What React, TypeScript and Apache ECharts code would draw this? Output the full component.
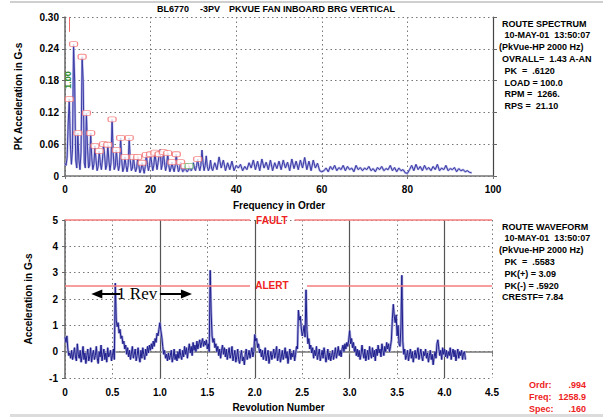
import React, { useEffect, useRef } from "react";
import * as echarts from "echarts";

// ---- Spectrum (orders 0..35 at 0.25 order, 35.5..95 at 0.5 order) ----
const spectrumLowStep = 0.25;
const spectrumLow = [
  0.024, 0.020, 0.035, 0.100,
  0.145, 0.060, 0.022, 0.050,
  0.249, 0.183, 0.030, 0.015,
  0.081, 0.030, 0.012, 0.045,
  0.225, 0.178, 0.025, 0.015,
  0.119, 0.055, 0.015, 0.020,
  0.081, 0.035, 0.012, 0.022,
  0.057, 0.030, 0.010, 0.018,
  0.047, 0.025, 0.012, 0.030,
  0.060, 0.040, 0.012, 0.020,
  0.059, 0.030, 0.010, 0.025,
  0.107, 0.045, 0.012, 0.018,
  0.049, 0.025, 0.010, 0.020,
  0.072, 0.030, 0.008, 0.015,
  0.036, 0.020, 0.008, 0.020,
  0.072, 0.030, 0.010, 0.015,
  0.036, 0.018, 0.008, 0.015,
  0.036, 0.020, 0.006, 0.012,
  0.025, 0.015, 0.005, 0.018,
  0.040, 0.022, 0.010, 0.020,
  0.041, 0.025, 0.010, 0.020,
  0.044, 0.028, 0.012, 0.025,
  0.041, 0.050, 0.012, 0.022,
  0.045, 0.025, 0.010, 0.020,
  0.043, 0.020, 0.008, 0.015,
  0.026, 0.015, 0.008, 0.020,
  0.041, 0.020, 0.008, 0.012,
  0.026, 0.015, 0.008, 0.010,
  0.019, 0.012, 0.008, 0.010,
  0.019, 0.012, 0.010, 0.015,
  0.025, 0.015, 0.010, 0.020,
  0.032, 0.018, 0.010, 0.020,
  0.049, 0.025, 0.010, 0.020,
  0.038, 0.018, 0.010, 0.015,
  0.030, 0.015, 0.010, 0.018,
  0.025,
];
const spectrumHighStart = 35.5;
const spectrumHighStep = 0.5;
const spectrumHigh = [
  0.012, 0.036, 0.015, 0.030, 0.010, 0.025, 0.012, 0.028, 0.010, 0.020,
  0.015, 0.022, 0.010, 0.018, 0.012, 0.025, 0.015, 0.030, 0.012, 0.028,
  0.010, 0.032, 0.015, 0.026, 0.012, 0.030, 0.010, 0.025, 0.014, 0.028,
  0.012, 0.030, 0.015, 0.026, 0.010, 0.032, 0.014, 0.028, 0.012, 0.030,
  0.015, 0.035, 0.012, 0.028, 0.010, 0.030, 0.015, 0.024, 0.010, 0.008,
  0.010, 0.015, 0.008, 0.018, 0.012, 0.020, 0.010, 0.016, 0.012, 0.020,
  0.010, 0.018, 0.012, 0.015, 0.008, 0.020, 0.012, 0.016, 0.010, 0.015,
  0.012, 0.018, 0.010, 0.014, 0.008, 0.016, 0.012, 0.018, 0.010, 0.014,
  0.012, 0.020, 0.010, 0.016, 0.008, 0.015, 0.010, 0.012, 0.006, 0.005,
  0.012, 0.020, 0.010, 0.022, 0.012, 0.018, 0.010, 0.020, 0.012, 0.016,
  0.010, 0.018, 0.012, 0.022, 0.010, 0.015, 0.012, 0.020, 0.010, 0.014,
  0.012, 0.016, 0.008, 0.014, 0.010, 0.012, 0.008, 0.010, 0.007, 0.006,
];

// peak markers (order, value)
const peakOrders = [1, 2, 3, 4, 5, 6, 7, 8, 9, 10, 11, 12, 13, 14, 15, 16, 17, 18, 19, 20, 21, 22, 23, 24, 25, 26, 27, 28, 29, 31];
const peakValues = [0.145, 0.249, 0.081, 0.225, 0.119, 0.081, 0.057, 0.047, 0.060, 0.059, 0.107, 0.049, 0.072, 0.036, 0.072, 0.036, 0.036, 0.025, 0.040, 0.041, 0.044, 0.041, 0.045, 0.043, 0.026, 0.041, 0.026, 0.019, 0.019, 0.032];

// ---- Waveform (revolutions, step 0.01) ----
const waveStep = 0.01;
const waveform = [
  0.55, 0.35, 0.60, 0.10, -0.15, -0.05, -0.25, 0.05, -0.30, -0.10,
  0.15, -0.20, -0.35, 0.30, -0.10, -0.25, 0.05, -0.40, -0.15, 0.20,
  -0.30, -0.05, -0.45, -0.15, 0.10, -0.35, -0.20, 0.15, -0.40, -0.10,
  0.05, -0.30, -0.15, 0.20, -0.25, -0.45, 0.00, -0.20, 0.25, -0.35,
  -0.10, 0.10, -0.30, -0.05, -0.40, 0.15, -0.20, -0.10, 0.05, -0.35,
  -0.15, 0.10, -0.30, 2.60, 1.20, 0.95, 1.10, 0.70, 0.85, 0.50,
  0.60, 0.30, 0.40, 0.10, 0.25, -0.10, 0.15, -0.20, 0.05, -0.30,
  -0.05, 0.20, -0.25, -0.10, 0.10, -0.35, -0.15, 0.15, -0.20, -0.40,
  0.05, -0.25, 0.15, -0.10, -0.30, 0.10, -0.15, 0.20, -0.05, 0.25,
  0.05, 0.30, 0.10, 0.40, 0.20, 0.50, 0.35, 0.70, 0.60, 0.85,
  1.10, 0.80, 0.55, 0.20, -0.10, 0.05, -0.25, -0.10, -0.35, -0.05,
  -0.30, -0.15, 0.05, -0.40, -0.20, 0.10, -0.30, -0.10, -0.35, 0.00,
  -0.25, 0.10, -0.15, -0.30, 0.05, -0.20, 0.20, -0.10, 0.15, -0.25,
  0.05, 0.30, -0.05, 0.20, -0.15, 0.35, 0.05, 0.25, 0.00, 0.40,
  0.10, 0.30, 0.45, 0.15, 0.35, 0.50, 0.20, 0.40, 0.25, 0.45,
  0.10, 0.30, 0.00, 3.09, 1.50, 0.60, 0.35, 0.50, 0.15, 0.30,
  0.00, 0.20, -0.15, 0.10, -0.25, 0.05, 0.25, -0.10, 0.15, -0.20,
  0.10, -0.30, -0.05, 0.15, -0.25, -0.10, 0.20, -0.35, -0.15, 0.05,
  -0.40, -0.20, 0.10, -0.30, -0.45, -0.15, 0.05, -0.35, -0.20, -0.50,
  -0.10, 0.10, -0.30, -0.15, 0.05, -0.25, -0.05, 0.15, -0.20, 0.00,
  0.65, 0.40, 0.50, 0.15, 0.30, -0.05, 0.10, -0.20, 0.05, -0.30,
  -0.10, 0.15, -0.35, -0.15, 0.05, -0.45, -0.20, 0.00, -0.30, -0.10,
  0.10, -0.25, -0.05, 0.20, -0.35, -0.15, 0.10, -0.40, -0.20, 0.05,
  -0.30, -0.10, 0.15, -0.25, 0.00, -0.45, -0.15, 0.10, -0.30, -0.05,
  -0.20, 0.05, -0.35, -0.10, 0.20, 0.10, 1.58, 1.20, 1.35, 0.90,
  0.60, 0.75, 1.00, 0.55, 2.35, 0.80, 0.30, 0.50, 0.10, 0.25,
  -0.05, 0.15, -0.25, 0.05, -0.15, 0.20, -0.30, -0.10, 0.10, -0.35,
  -0.15, 0.05, -0.25, 0.15, -0.10, -0.40, -0.20, 0.10, -0.30, -0.05,
  -0.35, -0.15, 0.05, -0.30, -0.10, 0.15, -0.25, -0.05, 0.20, -0.15,
  0.05, -0.20, 0.10, 0.25, 0.00, 0.30, 0.10, 0.35, 0.20, 0.45,
  0.80, 0.30, 0.50, 0.15, 0.35, 0.00, 0.20, -0.15, 0.10, -0.20,
  0.05, -0.30, -0.10, 0.25, -0.05, -0.25, 0.10, -0.35, -0.15, 0.05,
  -0.30, 0.20, -0.10, -0.25, 0.15, -0.20, 0.05, -0.35, 0.10, -0.15,
  0.25, -0.05, 0.10, -0.20, 0.30, 0.05, -0.15, 0.20, 0.00, 0.35,
  0.10, 0.30, 0.00, 0.20, 0.45, 1.25, 1.80, 1.35, 1.10, 1.40,
  0.60, 1.00, 0.30, 0.20, 0.90, 2.90, 0.40, -0.10, 0.10, -0.30,
  -0.15, 0.05, -0.35, -0.10, 0.10, -0.25, 0.00, -0.40, -0.15, 0.05,
  -0.25, -0.05, 0.15, -0.30, -0.10, 0.10, -0.20, -0.35, 0.00, -0.15,
  0.10, -0.25, -0.05, -0.40, -0.15, 0.05, -0.30, -0.10, -0.50, -0.20,
  0.00, -0.25, 0.30, 0.45, 0.10, -0.15, 0.05, -0.30, 0.15, -0.10,
  0.10, -0.20, 0.05, -0.25, 0.00, -0.15, 0.15, -0.30, -0.05, 0.10,
  -0.20, 0.05, -0.35, -0.10, 0.10, -0.25, 0.00, -0.15, 0.05, -0.30,
  -0.05, 0.00, -0.30,
];

const faultLevel = 5;
const alertLevel = 2.5;

const spectrumYTickLabels = ["0", "0.06", "0.12", "0.18", "0.24", "0.30"];
const waveXTickLabels = ["0", "0.5", "1.0", "1.5", "2.0", "2.5", "3.0", "3.5", "4.0", "4.5"];

const spectrumInfo = [
  "ROUTE SPECTRUM",
  " 10-MAY-01  13:50:07",
  "(PkVue-HP 2000 Hz)",
  "OVRALL=  1.43 A-AN",
  " PK  =  .6120",
  " LOAD = 100.0",
  " RPM =  1266.",
  " RPS =  21.10",
];
const waveformInfo = [
  "ROUTE WAVEFORM",
  " 10-MAY-01  13:50:07",
  "(PkVue-HP 2000 Hz)",
  " PK  =  .5583",
  " PK(+) = 3.09",
  " PK(-) = .5920",
  "CRESTF= 7.84",
];
const cursorLabels = ["Ordr:", "Freq:", "Spec:"];
const cursorValues = [".994", "1258.9", ".160"];

const FONT = '"Liberation Sans", Arial, sans-serif';

export default function App() {
  const ref = useRef<HTMLDivElement>(null);

  useEffect(() => {
    document.body.style.margin = "0";
    if (!ref.current) return;
    const chart = echarts.init(ref.current, undefined, { renderer: "svg" });

    const spectrumData: number[][] = [
      ...spectrumLow.map((v, i) => [i * spectrumLowStep, v]),
      ...spectrumHigh.map((v, i) => [spectrumHighStart + i * spectrumHighStep, v]),
    ];
    const peakData = peakOrders.map((o, i) => ({
      value: [o, peakValues[i]],
      itemStyle: o === 29 ? { borderColor: "#5cb85c" } : undefined,
    }));
    const waveData = waveform.map((v, i) => [Number((i * waveStep).toFixed(2)), v]);

    const axisLabelStyle = { color: "#000", fontFamily: FONT, fontWeight: "bold" as const, fontSize: 10 };
    const nameStyle = { color: "#000", fontFamily: FONT, fontWeight: "bold" as const, fontSize: 10 };
    const dotted = { color: "#777", type: "dashed" as const, dashOffset: 0, width: 1 };
    const dottedArr = [1.5, 3];

    const infoText = (lines: string[], top: number) =>
      lines.map((t, i) => ({
        type: "text",
        left: t.startsWith("(") ? 499 : 502,
        top: top + i * 11.8,
        style: { text: t, font: `bold 9px ${FONT}`, fill: "#000" },
      }));

    const split = { show: true, lineStyle: { color: "#777", width: 1, type: dottedArr } };

    const option: any = {
      animation: false,
      backgroundColor: "#fff",
      grid: [
        { left: 65, top: 17, width: 428, height: 159 },
        { left: 65, top: 220, width: 427, height: 158 },
      ],
      xAxis: [
        {
          gridIndex: 0, type: "value", min: 0, max: 100, interval: 20,
          name: "Frequency in Order", nameLocation: "middle", nameGap: 24, nameTextStyle: nameStyle,
          axisLine: { lineStyle: { color: "#777", width: 1.5 } },
          axisTick: { show: true, length: 3, lineStyle: { color: "#777" } },
          axisLabel: { ...axisLabelStyle, margin: 8 },
          splitLine: split,
        },
        {
          gridIndex: 1, type: "value", min: 0, max: 4.5, interval: 0.5,
          name: "Revolution Number", nameLocation: "middle", nameGap: 24, nameTextStyle: nameStyle,
          axisLine: { lineStyle: { color: "#777", width: 1.5 } },
          axisTick: { show: true, length: 3, lineStyle: { color: "#777" } },
          axisLabel: { ...axisLabelStyle, margin: 9, formatter: (v: number) => waveXTickLabels[Math.round(v / 0.5)] ?? "" },
          splitLine: split,
        },
        {
          gridIndex: 1, type: "value", min: 0, max: 4.5, interval: 1, position: "top",
          axisLine: { show: false }, axisTick: { show: false }, axisLabel: { show: false },
          splitLine: { show: true, showMinLine: false, showMaxLine: false, lineStyle: { color: "#555", width: 1.2 } },
        },
      ],
      yAxis: [
        {
          gridIndex: 0, type: "value", min: 0, max: 0.3, interval: 0.06,
          name: "PK Acceleration in G-s", nameLocation: "middle", nameGap: 42, nameTextStyle: nameStyle,
          axisLine: { show: true, lineStyle: { color: "#666", width: 1.5 } },
          axisTick: { show: true, length: 3, lineStyle: { color: "#666" } },
          axisLabel: { ...axisLabelStyle, margin: 6, formatter: (v: number) => spectrumYTickLabels[Math.round(v / 0.06)] ?? "" },
          splitLine: split,
        },
        {
          gridIndex: 0, type: "value", min: 0, max: 0.3, interval: 0.06, position: "right",
          axisLine: { show: true, lineStyle: { color: "#444", width: 1.2 } },
          axisTick: { show: true, length: 4, lineStyle: { color: "#666" } },
          axisLabel: { show: false },
          splitLine: { show: false },
        },
        {
          gridIndex: 1, type: "value", min: -1, max: 5, interval: 1,
          name: "Acceleration in G-s", nameLocation: "middle", nameGap: 32, nameTextStyle: nameStyle,
          axisLine: { show: true, lineStyle: { color: "#666", width: 1.5 } },
          axisTick: { show: true, length: 3, lineStyle: { color: "#666" } },
          axisLabel: { ...axisLabelStyle, margin: 7 },
          splitLine: split,
        },
      ],
      series: [
        {
          type: "line", xAxisIndex: 0, yAxisIndex: 0, data: spectrumData, symbol: "none",
          lineStyle: { color: "#b4b4e6", width: 2.2 }, silent: true, z: 2,
        },
        {
          type: "line", xAxisIndex: 0, yAxisIndex: 0, data: spectrumData, symbol: "none", clip: false,
          lineStyle: { color: "#3a3aa6", width: 1 }, z: 3,
          markLine: {
            silent: true, symbol: "none", label: { show: false },
            lineStyle: { color: "#f26b6b", width: 1, type: "solid" },
            data: [
              [{ coord: [1, 0.3] }, { coord: [1, 0.272] }],
              [{ coord: [1, 0.018] }, { coord: [1, -0.026] }],
            ],
          },
          markPoint: {
            silent: true, symbol: "circle", symbolSize: 0,
            data: [{ coord: [0.75, 0.181], value: 1 }],
            label: {
              show: true, position: "inside", rotate: 90, formatter: "1.00",
              color: "#2e8b2e", fontFamily: FONT, fontWeight: "bold", fontSize: 9,
            },
          },
        },
        {
          type: "scatter", xAxisIndex: 0, yAxisIndex: 0, data: peakData,
          symbol: "roundRect", symbolSize: [8, 5], z: 4,
          itemStyle: { color: "#fff", borderColor: "#f26b6b", borderWidth: 1 },
        },
        {
          type: "line", xAxisIndex: 1, yAxisIndex: 2, data: waveData, symbol: "none",
          lineStyle: { color: "#a8a8dc", width: 2.6 }, silent: true, z: 2,
        },
        {
          type: "line", xAxisIndex: 1, yAxisIndex: 2, data: waveData, symbol: "none",
          lineStyle: { color: "#1e1e8c", width: 1 }, z: 3,
          markLine: {
            silent: true, symbol: "none", label: { show: false },
            lineStyle: { color: "#f47c7c", width: 1.5, type: "solid" },
            data: [
              [{ coord: [0, faultLevel] }, { coord: [1.95, faultLevel] }],
              [{ coord: [2.42, faultLevel] }, { coord: [4.5, faultLevel] }],
              [{ coord: [0, alertLevel] }, { coord: [1.95, alertLevel] }],
              [{ coord: [2.55, alertLevel] }, { coord: [4.5, alertLevel] }],
            ],
          },
          markPoint: {
            silent: true, symbol: "circle", symbolSize: 0,
            label: { show: true, position: "inside", color: "#ee2222", fontFamily: FONT, fontWeight: "bold", fontSize: 10 },
            data: [
              { coord: [2.18, faultLevel], value: 1, label: { formatter: "FAULT" } },
              { coord: [2.18, alertLevel], value: 1, label: { formatter: "ALERT" } },
            ],
          },
        },
        {
          type: "line", xAxisIndex: 1, yAxisIndex: 2, data: [], symbol: "none", z: 5,
          markLine: {
            silent: true, symbol: ["none", "triangle"], symbolSize: [9, 11],
            label: { show: false },
            lineStyle: { color: "#000", width: 2, type: "solid" },
            data: [
              [{ coord: [0.585, 2.19] }, { coord: [0.335, 2.19] }],
              [{ coord: [1.0, 2.19] }, { coord: [1.28, 2.19] }],
            ],
          },
          markPoint: {
            silent: true, symbol: "circle", symbolSize: 0,
            data: [{ coord: [0.76, 2.19], value: 1 }],
            label: {
              show: true, position: "inside", formatter: "1 Rev", color: "#000",
              fontFamily: '"Liberation Serif", "DejaVu Serif", serif', fontSize: 17,
            },
          },
        },
      ],
      graphic: [
        { type: "rect", shape: { x: 10, y: 1, width: 593, height: 2 }, style: { fill: "#cfcfcf" } },
        { type: "rect", shape: { x: 10, y: 414, width: 593, height: 3 }, style: { fill: "#dcdcdc" } },
        { type: "text", left: 157, top: 4, style: { text: "BL6770", font: `bold 9px ${FONT}`, fill: "#000" } },
        { type: "text", left: 200, top: 4, style: { text: "-3PV", font: `bold 9px ${FONT}`, fill: "#000" } },
        { type: "text", left: 229, top: 4, style: { text: "PKVUE FAN INBOARD BRG VERTICAL", font: `bold 9px ${FONT}`, fill: "#000" } },
        ...infoText(spectrumInfo, 19),
        ...infoText(waveformInfo, 222),
        ...cursorLabels.map((t, i) => ({
          type: "text", left: 529, top: 380 + i * 12,
          style: { text: t, font: `bold 9px ${FONT}`, fill: "#ee2222" },
        })),
        ...cursorValues.map((t, i) => ({
          type: "text", right: 17, top: 380 + i * 12,
          style: { text: t, font: `bold 9px ${FONT}`, fill: "#ee2222" },
        })),
      ],
    };

    chart.setOption(option);
    return () => chart.dispose();
  }, []);

  return <div ref={ref} style={{ width: 603, height: 418 }} />;
}
